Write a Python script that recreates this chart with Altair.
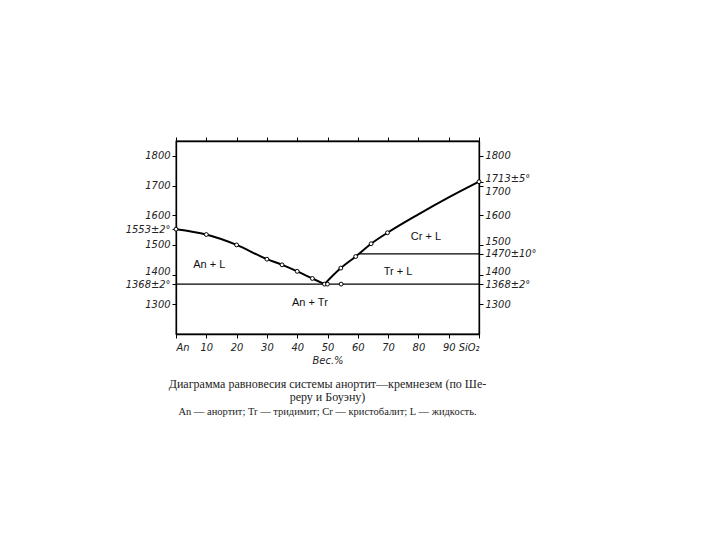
import altair as alt
import pandas as pd

# liquidus of anorthite (left branch) and of silica (right branch)
left_x = [0, 10, 20, 30, 35, 40, 45, 49]
left_t = [1553, 1535, 1500, 1452, 1433, 1411, 1387, 1368]
right_x = [49, 54.4, 59.3, 64.4, 69.8, 80, 90, 100]
right_t = [1368, 1422, 1461, 1504, 1541, 1603, 1660, 1713]

# measured points (open circles)
pt_x = [0, 10, 20, 30, 35, 40, 45, 49, 50, 54.5, 54.4, 59.3, 64.4, 69.8, 100]
pt_t = [1553, 1535, 1500, 1452, 1433, 1411, 1387, 1368, 1368, 1368, 1422, 1461, 1504, 1541, 1713]

# isotherms
iso_t = [1368, 1470]
iso_x0 = [0, 60.5]
iso_x1 = [100, 100]

# phase-field labels
region_labels = ["An + L", "An + Tr", "Cr + L", "Tr + L"]
region_x = [11, 44.2, 82.5, 73.3]
region_t = [1431, 1303, 1528, 1408]

x_ticks = [0, 10, 20, 30, 40, 50, 60, 70, 80, 90, 100]
left_ticks = [1300, 1368, 1400, 1500, 1553, 1600, 1700, 1800]
right_ticks = [1300, 1368, 1400, 1470, 1500, 1600, 1700, 1713, 1800]

x_title = "Вес.%"
caption = ["Диаграмма равновесия системы анортит—кремнезем (по Ше-", "реру и Боуэну)"]
legend_line = "An — анортит; Tr — тридимит; Cr — кристобалит; L — жидкость."

liq = pd.DataFrame({
    "x": left_x + right_x,
    "t": left_t + right_t,
    "branch": ["an"] * len(left_x) + ["si"] * len(right_x),
})
pts = pd.DataFrame({"x": pt_x, "t": pt_t})
iso = pd.DataFrame({"t": iso_t, "x0": iso_x0, "x1": iso_x1})
reg = pd.DataFrame({"label": region_labels, "x": region_x, "t": region_t})

LBL_FONT = "Liberation Sans Narrow, DejaVu Sans Condensed, Liberation Sans"
xs = alt.Scale(domain=[0, 100], nice=False, zero=False)
ys = alt.Scale(domain=[1200, 1850], nice=False, zero=False)

axis_common = dict(
    grid=False, domainColor="black", domainWidth=1.3, tickColor="black",
    tickSize=4, tickWidth=1, labelFont=LBL_FONT, labelFontStyle="italic",
    labelFontSize=11, labelColor="#222", labelOverlap=False, format="d",
)

line = alt.Chart(liq).mark_line(color="black", strokeWidth=2, interpolate="monotone").encode(
    x=alt.X("x:Q", scale=xs, axis=alt.Axis(
        values=x_ticks, orient="bottom", title=x_title, titleFont=LBL_FONT,
        titleFontStyle="italic", titleFontWeight="normal", titleFontSize=11,
        titlePadding=2, titleColor="#222",
        labelExpr="datum.value == 0 ? 'An' : datum.value == 100 ? 'SiO₂' : datum.label",
        labelPadding=3, **axis_common)),
    y=alt.Y("t:Q", scale=ys, axis=alt.Axis(
        values=left_ticks, orient="left", title=None, labelPadding=2,
        labelExpr="datum.value == 1553 ? '1553±2°' : datum.value == 1368 ? '1368±2°' : datum.label",
        labelBaseline={"condition": [{"test": "datum.value == 1400", "value": "alphabetic"}], "value": "middle"},
        **axis_common)),
    detail="branch:N",
)

rules = alt.Chart(iso).mark_rule(color="black", strokeWidth=1.3).encode(
    x=alt.X("x0:Q", scale=xs, axis=alt.Axis(values=x_ticks, orient="top", title=None,
                                             labels=False, **axis_common)),
    x2="x1:Q",
    y=alt.Y("t:Q", scale=ys, axis=alt.Axis(
        values=right_ticks, orient="right", title=None, labelPadding=2,
        labelExpr="datum.value == 1713 ? '1713±5°' : datum.value == 1470 ? '1470±10°' : datum.value == 1368 ? '1368±2°' : datum.label",
        labelBaseline={"condition": [
            {"test": "datum.value == 1713", "value": "alphabetic"},
            {"test": "datum.value == 1700", "value": "top"},
            {"test": "datum.value == 1400", "value": "alphabetic"},
            {"test": "datum.value == 1500", "value": "alphabetic"}], "value": "middle"},
        **axis_common)),
)

points = alt.Chart(pts).mark_point(shape="circle", size=15, filled=False, color="black",
                                   fill="white", fillOpacity=1, strokeWidth=1).encode(
    x=alt.X("x:Q", scale=xs, axis=None),
    y=alt.Y("t:Q", scale=ys, axis=None),
)

labels = alt.Chart(reg).mark_text(font="Liberation Sans", fontSize=11, color="#111").encode(
    x=alt.X("x:Q", scale=xs, axis=None),
    y=alt.Y("t:Q", scale=ys, axis=None),
    text="label:N",
)

chart = alt.layer(line, rules, points, labels).resolve_axis(
    x="independent", y="independent"
).properties(
    width=303, height=193,
    autosize=alt.AutoSizeParams(type="none"),
    padding={"left": 168, "top": 133, "right": 200, "bottom": 170},
    title=alt.TitleParams(
        text=caption, subtitle=[legend_line], orient="bottom", anchor="middle",
        font="Liberation Serif", fontSize=12, fontWeight="normal", color="#222",
        lineHeight=13, offset=14, subtitleFont="Liberation Serif",
        subtitleFontSize=10.5, subtitleColor="#222", subtitlePadding=3,
    ),
).configure_view(stroke="black", strokeWidth=1.3)

chart.save("out.html", embed_options={"renderer": "svg", "actions": False})
